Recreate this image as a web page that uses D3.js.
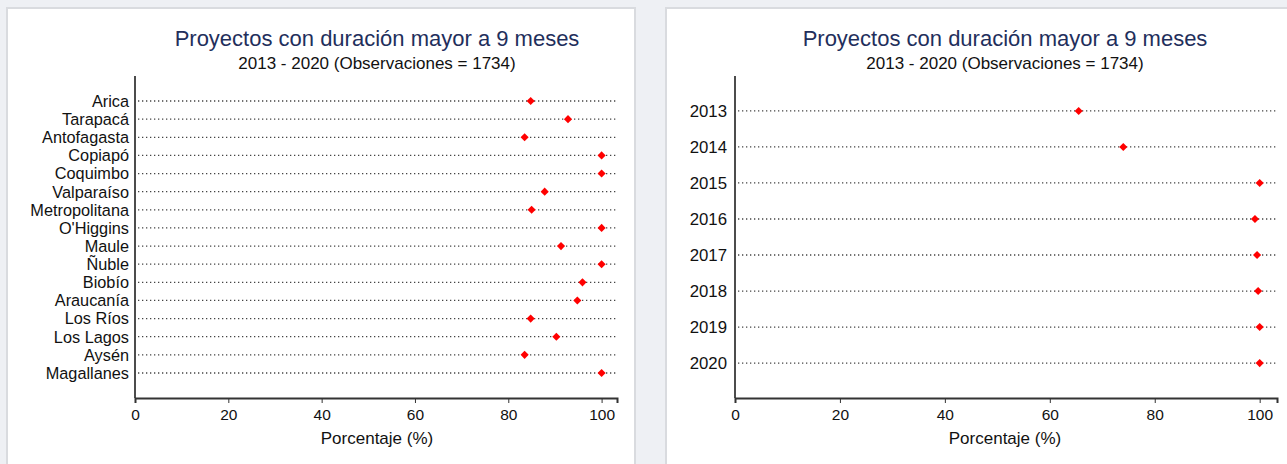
<!DOCTYPE html>
<html>
<head>
<meta charset="utf-8">
<script src="https://cdn.jsdelivr.net/npm/d3@7.9.0/dist/d3.min.js"></script>
<style>
  body { margin: 0; background: #eef0f4; }
  svg { display: block; font-family: "Liberation Sans", Arial, sans-serif; }
</style>
</head>
<body>
<svg id="chart" width="1287" height="464"></svg>
<script>
/* ---------------- DATA ---------------- */

const titulo = "Proyectos con duración mayor a 9 meses";
const subtitulo = "2013 - 2020 (Observaciones = 1734)";
const ejeX = "Porcentaje (%)";
const xTicks = [0, 20, 40, 60, 80, 100];

const regiones = ["Arica", "Tarapacá", "Antofagasta", "Copiapó", "Coquimbo", "Valparaíso",
  "Metropolitana", "O'Higgins", "Maule", "Ñuble", "Biobío", "Araucanía", "Los Ríos",
  "Los Lagos", "Aysén", "Magallanes"];
const pctRegion = [84.8, 92.8, 83.5, 100, 100, 87.8, 85.0, 100, 91.3, 100, 95.9, 94.8,
  84.8, 90.3, 83.5, 100];

const anios = ["2013", "2014", "2015", "2016", "2017", "2018", "2019", "2020"];
const pctAnio = [65.5, 74.0, 100, 99.1, 99.5, 99.7, 100, 100];

/* ---------------- PANEL ---------------- */

const svg = d3.select("#chart");

function panel(opts) {
  const { card, plot, cats, vals, pad, labelSize } = opts;

  svg.append("rect")
    .attr("x", card.x).attr("y", card.y)
    .attr("width", card.w).attr("height", card.h)
    .attr("fill", "#fff")
    .attr("stroke", "#d9dbdf")
    .attr("stroke-width", 2);

  svg.append("text")
    .attr("x", opts.titleX).attr("y", 46)
    .attr("text-anchor", "middle")
    .attr("font-size", 22)
    .attr("fill", "#1f2f5c")
    .text(titulo);

  svg.append("text")
    .attr("x", opts.titleX).attr("y", 69)
    .attr("text-anchor", "middle")
    .attr("font-size", 17)
    .attr("fill", "#111")
    .text(subtitulo);

  const x = d3.scaleLinear()
    .domain([0, 103.3])
    .range([plot.left, plot.right]);

  const y = d3.scalePoint()
    .domain(cats)
    .range([plot.top, plot.bottom])
    .padding(pad);

  const g = svg.append("g");

  // dotted guide lines
  g.selectAll("line.guia")
    .data(cats)
    .join("line")
    .attr("class", "guia")
    .attr("x1", plot.left + 3)
    .attr("x2", plot.right + 1)
    .attr("y1", d => y(d))
    .attr("y2", d => y(d))
    .attr("stroke", "#444")
    .attr("stroke-width", 1.3)
    .attr("stroke-dasharray", "1.3,2.7");

  // y labels
  g.selectAll("text.cat")
    .data(cats)
    .join("text")
    .attr("class", "cat")
    .attr("x", plot.left - opts.labelGap)
    .attr("y", d => y(d))
    .attr("dy", "0.36em")
    .attr("text-anchor", "end")
    .attr("font-size", labelSize)
    .attr("fill", "#111")
    .text(d => d);

  // y axis line
  g.append("line")
    .attr("x1", plot.left).attr("x2", plot.left)
    .attr("y1", plot.top).attr("y2", plot.bottom)
    .attr("stroke", "#111")
    .attr("stroke-width", 1.5);

  // x axis
  const ax = svg.append("g")
    .attr("transform", `translate(0,${plot.bottom})`)
    .call(d3.axisBottom(x).tickValues(xTicks).tickSize(5).tickPadding(6));
  ax.select(".domain").attr("stroke", "#333").attr("stroke-width", 2);
  ax.selectAll(".tick line").attr("stroke", "#333");
  ax.selectAll(".tick text")
    .attr("font-size", 15.5)
    .attr("font-family", "Liberation Sans, Arial, sans-serif")
    .attr("fill", "#111");

  svg.append("text")
    .attr("x", opts.titleX).attr("y", plot.bottom + 46)
    .attr("text-anchor", "middle")
    .attr("font-size", 17)
    .attr("fill", "#111")
    .text(ejeX);

  // markers
  g.selectAll("path.pt")
    .data(cats.map((c, i) => ({ c, v: vals[i] })))
    .join("path")
    .attr("class", "pt")
    .attr("d", d3.symbol(d3.symbolSquare, 33))
    .attr("transform", d => `translate(${x(d.v)},${y(d.c)}) rotate(45)`)
    .attr("fill", "#ff0000");
}

panel({
  card: { x: 7, y: 8, w: 628, h: 470 },
  plot: { left: 135, right: 617, top: 76, bottom: 398 },
  titleX: 377,
  cats: regiones,
  vals: pctRegion,
  pad: 1.38,
  labelSize: 16.3,
  labelGap: 6
});

panel({
  card: { x: 666, y: 8, w: 640, h: 470 },
  plot: { left: 735, right: 1277, top: 76, bottom: 398 },
  titleX: 1005,
  cats: anios,
  vals: pctAnio,
  pad: 0.97,
  labelSize: 16.8,
  labelGap: 8
});
</script>
</body>
</html>
